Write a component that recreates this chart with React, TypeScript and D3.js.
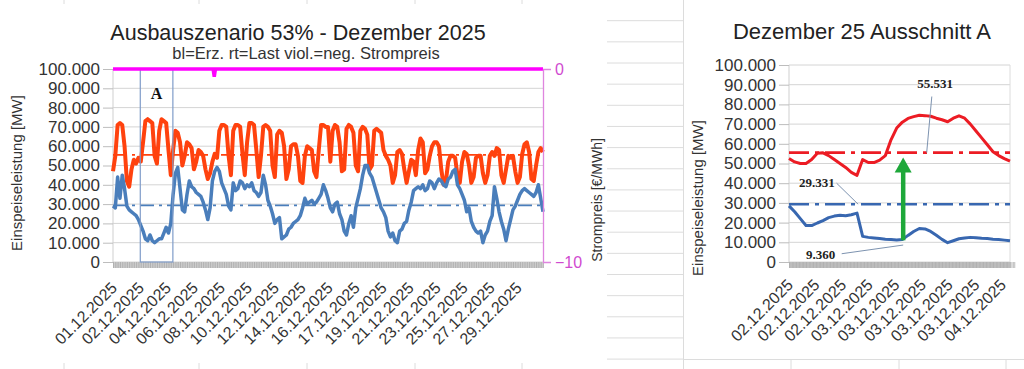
import React, { useEffect, useRef } from 'react'
import * as d3 from 'd3'

// Dezember 2025, Stützstellen im ~3,9-h-Raster, Werte in 1.000 MW
const lastMonat = [
  47, 55, 71, 72, 71, 60, 42, 39, 48, 53, 51, 54, 52, 62, 73, 74, 73, 72, 55, 51, 68, 74, 73, 72, 58, 45, 58, 68, 67, 62,
  50, 55, 62, 61, 59, 48, 52, 58, 57, 55, 48, 43, 46, 52, 56,
  54, 68, 71, 71, 70, 55, 45, 68, 71, 71, 70, 56, 45, 62, 72, 72, 71, 58, 44, 55, 70, 71, 70, 68, 50, 44, 66, 68, 67, 60,
  43, 48, 60, 61, 61, 55, 42, 41, 55, 60, 59, 58, 47, 44, 58, 71, 71, 70,
  70, 52, 68, 71, 70, 62, 47, 48, 69, 71, 70, 67, 50, 47, 68, 70, 69, 66, 48, 50, 68, 69, 68, 67, 58, 55, 53, 50, 41, 45,
  57, 58, 56, 48, 41, 47, 53, 52, 45, 58, 64, 62, 46, 48, 55, 60,
  62, 62, 60, 48, 40, 42, 52, 55, 55, 54, 45, 41, 52, 57, 56, 50, 41, 44, 54, 55, 55, 46, 41, 45, 55, 57, 55, 59, 58, 45,
  41, 48, 55, 54, 55, 47, 41, 44, 56, 61, 62, 57, 43, 42, 50, 57, 59, 57,
]
const erzMonat = [
  29, 28, 44, 33, 45, 38, 29, 27, 26, 25, 24, 22, 19, 16, 12, 11, 14, 11, 10, 11, 12, 12, 15, 18, 15, 20, 35, 46, 49, 38,
  27, 26, 35, 42, 39, 38, 36, 35, 34, 31, 27, 22, 28, 42, 47,
  49, 47, 41, 38, 35, 29, 27, 41, 37, 38, 42, 41, 38, 40, 39, 41, 37, 36, 34, 36, 45, 40, 32, 29, 25, 20, 22, 23, 12, 13,
  14, 17, 18, 20, 21, 22, 24, 28, 33, 30, 31, 32, 30, 31, 33, 35, 40, 37,
  33, 28, 26, 30, 31, 25, 22, 16, 14, 20, 24, 18, 28, 33, 38, 45, 50, 50, 46, 44, 40, 36, 32, 28, 26, 23, 16, 13, 15, 11,
  10, 16, 17, 20, 21, 27, 31, 37, 38, 39, 38, 40, 37, 38, 42, 41,
  38, 41, 43, 42, 40, 39, 43, 44, 47, 48, 40, 38, 35, 32, 26, 28, 21, 18, 16, 15, 16, 10, 14, 16, 21, 24, 39, 33, 26, 21,
  17, 11, 17, 22, 27, 29, 32, 35, 37, 38, 37, 36, 35, 34, 36, 40, 33, 26,
]
const monatLabels = [
  '01.12.2025', '02.12.2025', '04.12.2025', '06.12.2025', '08.12.2025', '10.12.2025', '12.12.2025', '14.12.2025',
  '16.12.2025', '17.12.2025', '19.12.2025', '21.12.2025', '23.12.2025', '25.12.2025', '27.12.2025', '29.12.2025',
]
const stundenProPunkt = 717 / 186
const labelAbstandH = 45
// neg. Strompreis: nur ein kurzer Ausschlag
const preisIdx = [0, 43.3, 43.8, 44.3, 186]
const preisWert = [0, 0, -0.4, 0, 0]
const ausschnittA = [11.8, 25.9]

// Ausschnitt A (02.12. - 04.12.)
const lastA = [
  52.5, 50.8, 50, 50, 52, 55.2, 55.4, 54, 52, 50, 48, 45.5, 44, 52, 50.5, 50.5, 51.7, 54, 62, 68,
  71, 72.9, 73.8, 74.5, 74.3, 74, 73, 72.2, 71.2, 73, 74.2, 73, 70, 66.5, 63, 59.5, 56, 54, 52.5, 51.2,
]
const erzA = [
  28.5, 25.5, 22, 18.5, 18.5, 19.8, 21, 22.5, 23.3, 23.7, 23.5, 24, 24.8, 13, 12.5, 12.2, 11.9, 11.6, 11.4, 11.2,
  11.4, 13.5, 15.5, 17, 16.8, 15.5, 13.6, 11.5, 9.8, 10.8, 11.8, 12.2, 12.5, 12.3, 12, 11.9, 11.6, 11.4, 11.1, 10.8,
]
const ausschnittLabels = [
  '02.12.2025', '02.12.2025', '02.12.2025', '03.12.2025', '03.12.2025', '03.12.2025', '03.12.2025', '03.12.2025',
  '04.12.2025',
]
const ausschnittLabelStep = 4.7

const mittelLast = 55.531
const mittelErz = 29.331
const minErz = 9.36
const yTicks = d3.range(0, 101, 10)

const FONT = '"Liberation Sans", Arial, sans-serif'
const SERIF = '"Liberation Serif", "Times New Roman", serif'
const RED_L = '#ff420e'
const BLUE_L = '#4a7ebb'
const RED_R = '#ec1c24'
const BLUE_R = '#3867b0'
const MAGENTA = '#ff00ff'

const fmt = d3.formatLocale({ decimal: ',', thousands: '.', grouping: [3], currency: ['', ' €'] }).format(',d')
const fmtMW = (v) => fmt(Math.round(v * 1000))

const App = () => {
  const ref = useRef()

  useEffect(() => {
    const svg = d3.select(ref.current)
    svg.selectAll('*').remove()

    // Tabellenraster im Hintergrund
    const bg = svg.append('g').attr('stroke', '#dcdcdc').attr('stroke-width', 1)
    d3.range(20.7, 369, 21.15).forEach((y) => {
      bg.append('line').attr('x1', 607).attr('x2', 683).attr('y1', y).attr('y2', y)
    })
    bg.append('line').attr('x1', 683.5).attr('x2', 683.5).attr('y1', 0).attr('y2', 369)
    bg.append('line').attr('x1', 683).attr('x2', 1024).attr('y1', 359.5).attr('y2', 359.5)
    ;[791, 899, 1006].forEach((x) => bg.append('line').attr('x1', x).attr('x2', x).attr('y1', 359).attr('y2', 369))
    ;[64, 199, 307, 415, 522].forEach((x) => {
      bg.append('line').attr('x1', x).attr('x2', x).attr('y1', 0).attr('y2', 4)
      bg.append('line').attr('x1', x).attr('x2', x).attr('y1', 363).attr('y2', 369)
    })

    const drawFrame = (g, x, y, n, hatchStep) => {
      const [x0, x1] = x.range()
      // Gitter
      g.append('g')
        .selectAll('line')
        .data(yTicks)
        .join('line')
        .attr('x1', x0)
        .attr('x2', x1)
        .attr('y1', (d) => y(d))
        .attr('y2', (d) => y(d))
        .attr('stroke', '#d4d4d4')
      g.append('line').attr('x1', x0).attr('x2', x0).attr('y1', y(100)).attr('y2', y(0)).attr('stroke', '#cfcfcf')

      // Y-Achse
      const ax = g
        .append('g')
        .attr('transform', `translate(${x0},0)`)
        .call(d3.axisLeft(y).tickValues(yTicks).tickSize(10).tickPadding(3).tickFormat(fmtMW))
      ax.select('.domain').remove()
      ax.selectAll('line').attr('stroke', '#bdbdbd')
      ax.selectAll('text').attr('font-size', 17).attr('font-family', FONT).attr('fill', '#333')

      // dichte Kategorie-Striche unten
      g.append('rect').attr('x', x0).attr('y', y(0)).attr('width', x1 - x0).attr('height', 6).attr('fill', '#cccccc')
      const hx = g
        .append('g')
        .attr('transform', `translate(0,${y(0)})`)
        .call(d3.axisBottom(x).tickValues(d3.range(0, n, hatchStep)).tickSize(6).tickFormat(() => ''))
      hx.select('.domain').remove()
      hx.selectAll('line').attr('stroke', '#a9a9a9').attr('stroke-width', 0.8)
    }

    const rotLabels = (g, labels, pos, yBase) => {
      g.append('g')
        .selectAll('text')
        .data(labels)
        .join('text')
        .attr('transform', (_, k) => `translate(${pos(k) + 5},${yBase}) rotate(-45)`)
        .attr('text-anchor', 'end')
        .attr('font-size', 16)
        .attr('font-family', FONT)
        .attr('fill', '#333')
        .text((d) => d)
    }

    const dashLine = (g, x, y, v, color, w, dash) => {
      const [x0, x1] = x.range()
      g.append('line')
        .attr('x1', x0)
        .attr('x2', x1)
        .attr('y1', y(v))
        .attr('y2', y(v))
        .attr('stroke', color)
        .attr('stroke-width', w)
        .attr('stroke-dasharray', dash)
    }

    // ---------- linkes Diagramm ----------
    const L = svg.append('g')
    const xL = d3.scaleLinear().domain([0, lastMonat.length - 1]).range([113, 543])
    const yL = d3.scaleLinear().domain([0, 100]).range([262, 69])
    const yP = d3.scaleLinear().domain([-10, 0]).range([262, 69])

    drawFrame(L, xL, yL, lastMonat.length, 1)

    L.append('text')
      .attr('x', 298)
      .attr('y', 40)
      .attr('text-anchor', 'middle')
      .attr('font-size', 21.5)
      .attr('font-family', FONT)
      .attr('fill', '#222')
      .text('Ausbauszenario 53% - Dezember 2025')
    L.append('text')
      .attr('x', 306)
      .attr('y', 58.5)
      .attr('text-anchor', 'middle')
      .attr('font-size', 16.5)
      .attr('font-family', FONT)
      .attr('fill', '#333')
      .text('bl=Erz. rt=Last viol.=neg. Strompreis')

    L.append('text')
      .attr('transform', 'translate(22,173) rotate(-90)')
      .attr('text-anchor', 'middle')
      .attr('font-size', 15)
      .attr('font-family', FONT)
      .attr('fill', '#333')
      .text('Einspeiseleistung [MW]')

    rotLabels(L, monatLabels, (k) => xL((k * labelAbstandH) / stundenProPunkt), 289)

    const lineL = d3
      .line()
      .x((_, i) => xL(i))
      .y((d) => yL(d))
    L.append('path')
      .attr('d', lineL(lastMonat))
      .attr('fill', 'none')
      .attr('stroke', RED_L)
      .attr('stroke-width', 4)
      .attr('stroke-linejoin', 'round')
    dashLine(L, xL, yL, mittelLast, RED_L, 1.6, '14,5,3,5')
    L.append('path')
      .attr('d', lineL(erzMonat))
      .attr('fill', 'none')
      .attr('stroke', BLUE_L)
      .attr('stroke-width', 3.5)
      .attr('stroke-linejoin', 'round')
    dashLine(L, xL, yL, mittelErz, BLUE_L, 1.8, '14,5,3,5')

    // Ausschnitt A
    L.append('rect')
      .attr('x', xL(ausschnittA[0]))
      .attr('y', yL(100))
      .attr('width', xL(ausschnittA[1]) - xL(ausschnittA[0]))
      .attr('height', yL(0) - yL(100))
      .attr('fill', 'none')
      .attr('stroke', '#7f9cc9')
      .attr('stroke-width', 1.2)
    L.append('text')
      .attr('x', xL((ausschnittA[0] + ausschnittA[1]) / 2))
      .attr('y', yL(84.5))
      .attr('text-anchor', 'middle')
      .attr('font-size', 16)
      .attr('font-weight', 'bold')
      .attr('font-family', SERIF)
      .attr('fill', '#111')
      .text('A')

    // Strompreis (rechte Achse)
    const preisLine = d3
      .line()
      .x((d) => xL(d))
      .y((_, i) => yP(preisWert[i]))
    L.append('path')
      .attr('d', preisLine(preisIdx))
      .attr('fill', 'none')
      .attr('stroke', MAGENTA)
      .attr('stroke-width', 3.5)
    const ap = L.append('g')
      .attr('transform', `translate(${xL.range()[1]},0)`)
      .call(d3.axisRight(yP).tickValues([-10, 0]).tickSize(8).tickPadding(4))
    ap.select('.domain').attr('stroke', '#df85df').attr('stroke-width', 1.3)
    ap.selectAll('line').attr('stroke', '#df85df')
    ap.selectAll('text').attr('font-size', 16).attr('font-family', FONT).attr('fill', '#d04ad0')
    L.append('text')
      .attr('transform', 'translate(602,200) rotate(-90)')
      .attr('text-anchor', 'middle')
      .attr('font-size', 14)
      .attr('font-family', FONT)
      .attr('fill', '#333')
      .text('Strompreis [€/MWh]')

    // ---------- rechtes Diagramm ----------
    const R = svg.append('g')
    R.append('rect').attr('x', 684).attr('y', 0).attr('width', 340).attr('height', 359).attr('fill', '#fff')
    const xR = d3.scaleLinear().domain([0, lastA.length - 1]).range([789, 1010])
    const yR = d3.scaleLinear().domain([0, 100]).range([262, 65])

    drawFrame(R, xR, yR, lastA.length, 0.25)
    R.append('line').attr('x1', 1010).attr('x2', 1010).attr('y1', yR(100)).attr('y2', yR(0)).attr('stroke', '#dcdcdc')

    R.append('text')
      .attr('x', 862)
      .attr('y', 39)
      .attr('text-anchor', 'middle')
      .attr('font-size', 22)
      .attr('font-family', FONT)
      .attr('fill', '#222')
      .text('Dezember 25 Ausschnitt A')
    R.append('text')
      .attr('transform', 'translate(703,198) rotate(-90)')
      .attr('text-anchor', 'middle')
      .attr('font-size', 15)
      .attr('font-family', FONT)
      .attr('fill', '#333')
      .text('Einspeiseleistung [MW]')

    rotLabels(R, ausschnittLabels, (k) => xR(k * ausschnittLabelStep), 286)

    const lineR = d3
      .line()
      .x((_, i) => xR(i))
      .y((d) => yR(d))
    dashLine(R, xR, yR, mittelLast, RED_R, 2.6, '20,6,4,6')
    dashLine(R, xR, yR, mittelErz, BLUE_R, 2.6, '20,6,4,6')
    R.append('path')
      .attr('d', lineR(lastA))
      .attr('fill', 'none')
      .attr('stroke', RED_R)
      .attr('stroke-width', 3)
      .attr('stroke-linejoin', 'round')
    R.append('path')
      .attr('d', lineR(erzA))
      .attr('fill', 'none')
      .attr('stroke', BLUE_R)
      .attr('stroke-width', 3)
      .attr('stroke-linejoin', 'round')

    // Beschriftungen mit Führungslinien
    const notes = [
      { t: fmtMW(mittelLast), at: [25.8, 88.3], from: [25.2, 84], to: [24.3, mittelLast] },
      { t: fmtMW(mittelErz), at: [4.9, 38], from: [8.4, 40], to: [12.2, mittelErz] },
      { t: fmtMW(minErz), at: [5.6, 1.5], from: [9.3, 4.2], to: [20.15, 8.6] },
    ]
    notes.forEach((n) => {
      R.append('line')
        .attr('x1', xR(n.from[0]))
        .attr('y1', yR(n.from[1]))
        .attr('x2', xR(n.to[0]))
        .attr('y2', yR(n.to[1]))
        .attr('stroke', '#7d93b0')
        .attr('stroke-width', 1)
      R.append('text')
        .attr('x', xR(n.at[0]))
        .attr('y', yR(n.at[1]))
        .attr('text-anchor', 'middle')
        .attr('font-size', 13)
        .attr('font-weight', 'bold')
        .attr('font-family', SERIF)
        .attr('fill', '#222')
        .text(n.t)
    })

    // grüner Pfeil
    const pfeilX = xR(20.15)
    const yFuss = yR(11)
    const ySpitze = yR(53)
    R.append('line')
      .attr('x1', pfeilX)
      .attr('x2', pfeilX)
      .attr('y1', yFuss)
      .attr('y2', ySpitze + 14)
      .attr('stroke', '#1ea83a')
      .attr('stroke-width', 4.5)
    R.append('path')
      .attr('d', `M${pfeilX},${ySpitze}L${pfeilX - 8.5},${ySpitze + 15}L${pfeilX + 8.5},${ySpitze + 15}Z`)
      .attr('fill', '#1ea83a')
  }, [])

  return <svg ref={ref} width={1024} height={369} style={{ position: 'absolute', left: 0, top: 0, background: '#fff' }} />
}

export default App
